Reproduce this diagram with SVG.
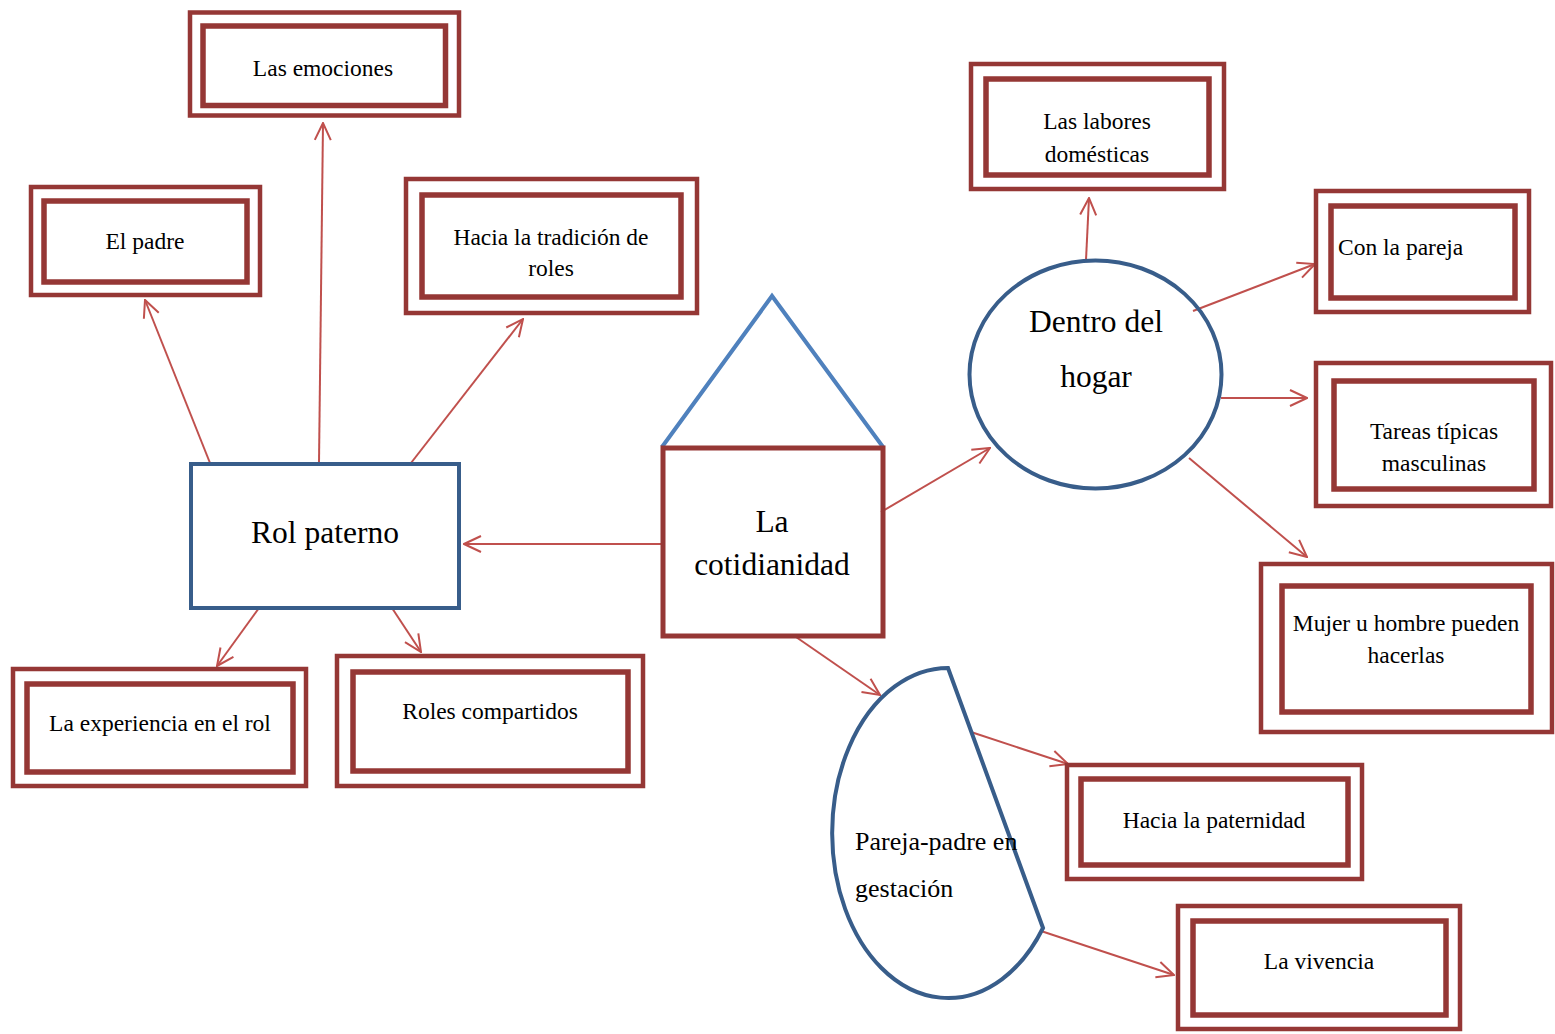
<svg xmlns="http://www.w3.org/2000/svg" width="1555" height="1034" viewBox="0 0 1555 1034">
<style>
.o{fill:none;stroke:#953735;stroke-width:4.5}
.i{fill:none;stroke:#953735;stroke-width:5.5}
.t{font-family:"Liberation Serif","Times New Roman",serif;font-size:23.5px;fill:#000;text-anchor:middle}
.b{font-family:"Liberation Serif","Times New Roman",serif;font-size:31.5px;fill:#000;text-anchor:middle}
.c{fill:none;stroke:#C0504D;stroke-width:2;marker-end:url(#ah)}
</style>
<defs>
<marker id="ah" viewBox="0 0 20 20" refX="19" refY="10" markerWidth="20" markerHeight="20" markerUnits="userSpaceOnUse" orient="auto">
<path d="M2,2 L19,10 L2,18" fill="none" stroke="#C0504D" stroke-width="2"/>
</marker>
</defs>
<rect width="1555" height="1034" fill="#fff"/>
<g id="connectors">
<line class="c" x1="662" y1="544" x2="464" y2="544"/>
<line class="c" x1="210" y1="463" x2="145" y2="300"/>
<line class="c" x1="319" y1="463" x2="323" y2="123"/>
<line class="c" x1="411" y1="463" x2="523" y2="319"/>
<line class="c" x1="259" y1="608" x2="217" y2="666"/>
<line class="c" x1="392" y1="608" x2="421" y2="652"/>
<line class="c" x1="881" y1="512" x2="990" y2="448"/>
<line class="c" x1="796" y1="637" x2="880" y2="695"/>
<line class="c" x1="1086" y1="260" x2="1089" y2="198"/>
<line class="c" x1="1193" y1="311" x2="1315" y2="264"/>
<line class="c" x1="1221" y1="398" x2="1307" y2="398"/>
<line class="c" x1="1189" y1="458" x2="1307" y2="557"/>
<line class="c" x1="971" y1="732" x2="1068" y2="764"/>
<line class="c" x1="1041" y1="931" x2="1174" y2="975"/>
</g>
<g id="las-emociones">
<rect class="o" x="190" y="12.5" width="269" height="103"/>
<rect class="i" x="203" y="26" width="242.5" height="79.5"/>
<text class="t" x="323" y="76">Las emociones</text>
</g>
<g id="el-padre">
<rect class="o" x="31" y="187" width="229" height="108"/>
<rect class="i" x="44" y="201" width="203" height="81"/>
<text class="t" x="145" y="249">El padre</text>
</g>
<g id="hacia-tradicion">
<rect class="o" x="406" y="179" width="291" height="134"/>
<rect class="i" x="422" y="195" width="259" height="102"/>
<text class="t" x="551" y="245">Hacia la tradición de</text>
<text class="t" x="551" y="276">roles</text>
</g>
<g id="rol-paterno">
<rect x="191" y="464" width="268" height="144" fill="none" stroke="#385D8A" stroke-width="4"/>
<text class="b" x="325" y="543">Rol paterno</text>
</g>
<g id="la-experiencia">
<rect class="o" x="13" y="669" width="293" height="117"/>
<rect class="i" x="27" y="684" width="266" height="88"/>
<text class="t" x="160" y="731">La experiencia en el rol</text>
</g>
<g id="roles-compartidos">
<rect class="o" x="337" y="656" width="306" height="130"/>
<rect class="i" x="353" y="672" width="275" height="99"/>
<text class="t" x="490" y="719">Roles compartidos</text>
</g>
<g id="la-cotidianidad">
<polyline points="662,447 772,296 883,447" fill="none" stroke="#4F81BD" stroke-width="4"/>
<rect x="663" y="448" width="220" height="188" fill="none" stroke="#953735" stroke-width="5"/>
<text class="b" x="772" y="532">La</text>
<text class="b" x="772" y="575">cotidianidad</text>
</g>
<g id="dentro-del-hogar">
<ellipse cx="1095.5" cy="374.5" rx="126" ry="114" fill="none" stroke="#385D8A" stroke-width="4"/>
<text class="b" x="1096" y="332">Dentro del</text>
<text class="b" x="1096" y="387">hogar</text>
</g>
<g id="las-labores">
<rect class="o" x="971" y="64" width="253" height="125"/>
<rect class="i" x="986" y="79" width="223" height="96"/>
<text class="t" x="1097" y="129">Las labores</text>
<text class="t" x="1097" y="162">domésticas</text>
</g>
<g id="con-la-pareja">
<rect class="o" x="1316" y="191" width="213" height="121"/>
<rect class="i" x="1331" y="206" width="184" height="92"/>
<text class="t" x="1338" y="255" text-anchor="start" style="text-anchor:start">Con la pareja</text>
</g>
<g id="tareas-tipicas">
<rect class="o" x="1316" y="363" width="235" height="143"/>
<rect class="i" x="1334" y="381" width="200" height="108"/>
<text class="t" x="1434" y="439">Tareas típicas</text>
<text class="t" x="1434" y="471">masculinas</text>
</g>
<g id="mujer-u-hombre">
<rect class="o" x="1261" y="564" width="291" height="168"/>
<rect class="i" x="1282" y="586" width="249" height="126"/>
<text class="t" x="1406" y="631">Mujer u hombre pueden</text>
<text class="t" x="1406" y="663">hacerlas</text>
</g>
<g id="pareja-padre">
<path d="M948,668 L1043,928 A116,165 0 1 1 948,668 Z" fill="none" stroke="#385D8A" stroke-width="4"/>
<text x="855" y="850" font-family="Liberation Serif, Times New Roman, serif" font-size="26">Pareja-padre en</text>
<text x="855" y="897" font-family="Liberation Serif, Times New Roman, serif" font-size="26">gestación</text>
</g>
<g id="hacia-paternidad">
<rect class="o" x="1067" y="765" width="295" height="114"/>
<rect class="i" x="1081" y="779" width="267" height="86"/>
<text class="t" x="1214" y="828">Hacia la paternidad</text>
</g>
<g id="la-vivencia">
<rect class="o" x="1178" y="906" width="282" height="123"/>
<rect class="i" x="1193" y="921" width="253" height="94"/>
<text class="t" x="1319" y="969">La vivencia</text>
</g>
</svg>
